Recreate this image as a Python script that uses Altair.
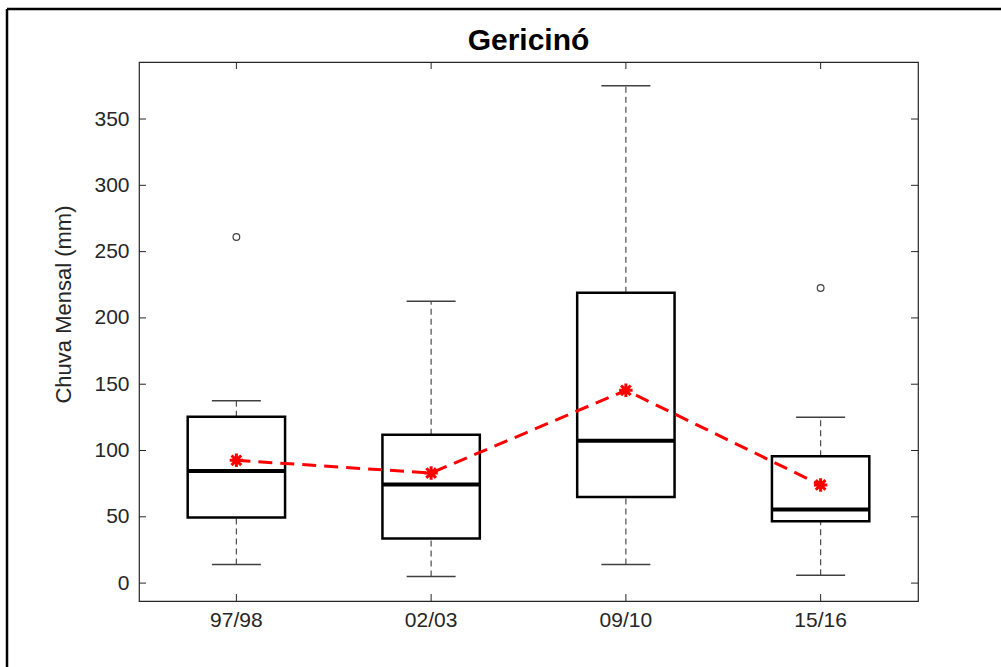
import altair as alt
import pandas as pd

categories = ["97/98", "02/03", "09/10", "15/16"]
whisker_low = [14, 5, 14, 6]
q1 = [49.5, 33.6, 65, 46.6]
median = [84.5, 74.3, 107.4, 55.5]
q3 = [125.5, 111.8, 219, 95.6]
whisker_high = [137.5, 212.5, 375, 125]
means = [92.6, 83, 145.4, 74]
outlier_cats = ["97/98", "15/16"]
outlier_vals = [261, 222.5]
y_ticks = [0, 50, 100, 150, 200, 250, 300, 350]
title_text = "Gericinó"
y_title = "Chuva Mensal (mm)"

W, H = 779, 539
FONT = "Liberation Sans"
AX = "#262626"
LBL = 21

box_df = pd.DataFrame({
    "cat": categories, "lo": whisker_low, "q1": q1, "med": median,
    "q3": q3, "hi": whisker_high, "mean": means,
})
out_df = pd.DataFrame({"cat": outlier_cats, "val": outlier_vals})
ytick_df = pd.DataFrame({"v": y_ticks})
xtick_df = pd.DataFrame({"cat": categories})
one_df = pd.DataFrame({"t": [title_text]})

x_scale = alt.Scale(domain=categories, paddingInner=0, paddingOuter=0)
y_scale = alt.Scale(domain=[-13.5, 393], nice=False, zero=False)

x_axis = alt.Axis(title="", labelAngle=0, ticks=False, domain=False, grid=False,
                  labelPadding=8, labelFontSize=LBL, labelColor=AX, labelFont=FONT)
y_axis = alt.Axis(values=y_ticks, title=y_title, ticks=False, domain=False,
                  grid=False, labelPadding=10, labelFontSize=LBL, labelColor=AX,
                  labelFont=FONT, titleFont=FONT, titleFontSize=22,
                  titleFontWeight="normal", titleColor=AX, titleAngle=270,
                  titleAlign="center", titleBaseline="middle",
                  titleX=-76, titleY=242)

X = alt.X("cat:N", scale=x_scale, sort=categories, axis=x_axis, title="")


def Yf(field):
    return alt.Y(field, type="quantitative", scale=y_scale, axis=y_axis, title=y_title)


base = alt.Chart(box_df)

whisk_up = base.mark_rule(color="#4d4d4d", strokeWidth=1.2, strokeDash=[6, 4]).encode(
    x=X, y=Yf("q3"), y2="hi")
whisk_dn = base.mark_rule(color="#4d4d4d", strokeWidth=1.2, strokeDash=[6, 4]).encode(
    x=X, y=Yf("lo"), y2="q1")
cap_hi = base.mark_tick(color="#404040", thickness=1.5, size=49, opacity=1).encode(
    x=X, y=Yf("hi"))
cap_lo = base.mark_tick(color="#404040", thickness=1.5, size=49, opacity=1).encode(
    x=X, y=Yf("lo"))
box = base.mark_bar(filled=False, stroke="black", strokeWidth=2.5, opacity=1,
                    width=alt.RelativeBandSize(0.5)).encode(x=X, y=Yf("q1"), y2="q3")
med = base.mark_tick(color="black", thickness=4, size=97, opacity=1).encode(
    x=X, y=Yf("med"))

outl = alt.Chart(out_df).mark_point(shape="circle", size=45, filled=False, color="#404040",
                                    strokeWidth=1.2, opacity=1).encode(x=X, y=Yf("val"))

mean_line = base.mark_line(color="#ff0000", strokeWidth=3, strokeDash=[14, 8]).encode(
    x=X, y=Yf("mean"))
ast = "M-1,0L1,0M0,-1L0,1M-0.72,-0.72L0.72,0.72M-0.72,0.72L0.72,-0.72"
mean_pts = base.mark_point(shape=ast, size=180, filled=False, color="#ff0000",
                           strokeWidth=3, opacity=1).encode(x=X, y=Yf("mean"))

# inward ticks (MATLAB style)
yt_l = alt.Chart(ytick_df).mark_rule(color=AX, strokeWidth=1).encode(
    y=Yf("v"), x=alt.value(0), x2=alt.value(7))
yt_r = alt.Chart(ytick_df).mark_rule(color=AX, strokeWidth=1).encode(
    y=Yf("v"), x=alt.value(W - 7), x2=alt.value(W))
xt_b = alt.Chart(xtick_df).mark_rule(color=AX, strokeWidth=1).encode(
    x=X, y=alt.value(H - 7), y2=alt.value(H))
xt_t = alt.Chart(xtick_df).mark_rule(color=AX, strokeWidth=1).encode(
    x=X, y=alt.value(0), y2=alt.value(7))

# title as text above the plot
title = alt.Chart(one_df).mark_text(font=FONT, fontSize=30, fontWeight="bold", color="black",
                                    align="center", baseline="alphabetic").encode(
    text="t:N", x=alt.value(W / 2), y=alt.value(-12))

# outer figure frame (top and left edges visible in the reference)
frame_top = alt.Chart(one_df).mark_rule(color="black", strokeWidth=2.5).encode(
    x=alt.value(-132), x2=alt.value(1001 - 139), y=alt.value(-53))
frame_left = alt.Chart(one_df).mark_rule(color="black", strokeWidth=2.5).encode(
    x=alt.value(-132), y=alt.value(-53), y2=alt.value(667 - 62))

chart = alt.layer(
    whisk_up, whisk_dn, cap_hi, cap_lo, box, med, outl, mean_line, mean_pts,
    yt_l, yt_r, xt_b, xt_t, title, frame_top, frame_left,
).properties(
    width=W, height=H,
    autosize="none",
    background="white",
    padding={"left": 139, "top": 62, "right": 83, "bottom": 66},
).configure_view(stroke=AX, strokeWidth=1.2)

chart.save("out.html", embed_options={"renderer": "svg", "actions": False})
